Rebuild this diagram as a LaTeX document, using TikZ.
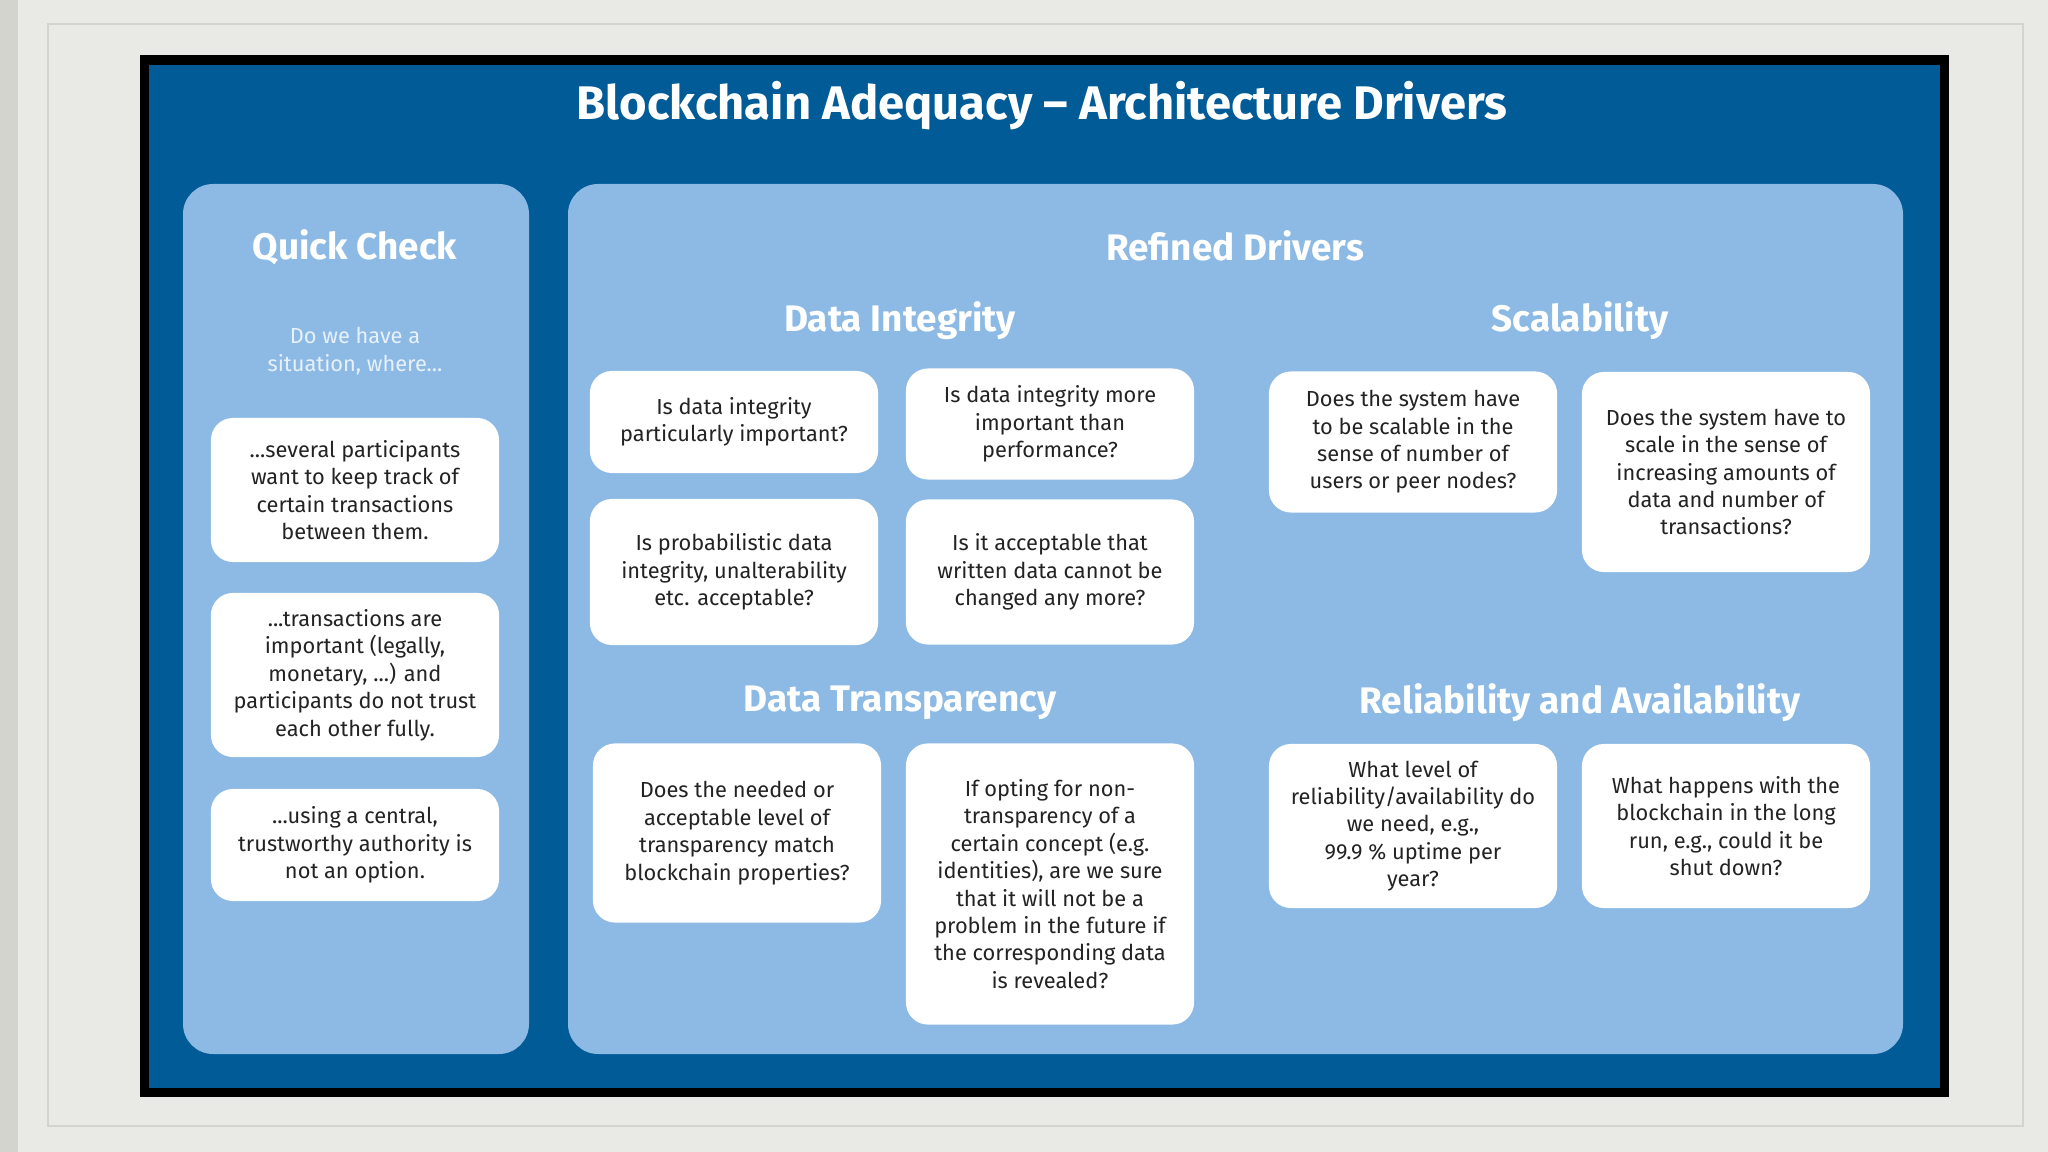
\documentclass[tikz,border=0pt]{standalone}
\usepackage{fontspec}
\setmainfont{Fira Sans}
\usetikzlibrary{positioning}
\definecolor{slideblue}{RGB}{0,91,151}
\definecolor{panelblue}{RGB}{140,186,228}
\definecolor{paper}{RGB}{233,233,229}
\definecolor{paperedge}{RGB}{212,212,207}
\definecolor{boxtext}{RGB}{35,35,35}
\definecolor{hinttext}{RGB}{232,241,250}

\tikzset{
  panel/.style={fill=panelblue, rounded corners=0.3cm},
  qbox/.style={fill=white, rounded corners=0.22cm, minimum width=2.88cm,
    align=center, text=boxtext, inner sep=0pt,
    font=\fontsize{6.2}{7.8}\selectfont},
  heading/.style={text=white, font=\bfseries\fontsize{10.5}{12}\selectfont},
  slidetitle/.style={text=white, font=\bfseries\fontsize{13.4}{16}\selectfont},
}

\begin{document}
\begin{tikzpicture}[x=0.01cm, y=-0.01cm]
  \useasboundingbox (0,0) rectangle (2048,1152);
  % Paper background
  \fill[paper] (0,0) rectangle (2048,1152);
  \fill[paperedge] (0,0) rectangle (18,1152);
  \draw[paperedge, line width=0.5pt] (48,24) rectangle (2023,1126);
  % Slide with black frame
  \fill[black] (140,55) rectangle (1949,1097);
  \fill[slideblue] (149,65) rectangle (1940,1088);
  \node[slidetitle] (title) at (1042,106)
    {Blockchain Adequacy -- Architecture Drivers};

  % Quick check panel
  \fill[panel] (183,184) rectangle (529,1054);
  \node[heading] (quick) at (355,247) {Quick Check};
  \node[text=hinttext, align=center, font=\fontsize{6.2}{7.8}\selectfont]
    (where) at (355,351) {Do we have a\\situation, where...};
  \node[qbox, minimum height=1.44cm] (qc1) at (355,490)
    {...several participants\\want to keep track of\\certain transactions\\between them.};
  \node[qbox, minimum height=1.64cm] (qc2) at (355,675)
    {...transactions are\\important (legally,\\monetary, ...) and\\participants do not trust\\each other fully.};
  \node[qbox, minimum height=1.12cm] (qc3) at (355,845)
    {...using a central,\\trustworthy authority is\\not an option.};

  % Refined drivers panel
  \fill[panel] (568,184) rectangle (1903,1054);
  \node[heading] (refined) at (1235,246) {Refined Drivers};

  % Data integrity
  \node[heading] (integrity) at (900,321) {Data Integrity};
  \node[qbox, minimum height=1.02cm] (di1) at (734,422)
    {Is data integrity\\particularly important?};
  \node[qbox, minimum height=1.11cm] (di2) at (1050,424)
    {Is data integrity more\\important than\\performance?};
  \node[qbox, minimum height=1.46cm] (di3) at (734,572)
    {Is probabilistic data\\integrity, unalterability\\etc. acceptable?};
  \node[qbox, minimum height=1.45cm] (di4) at (1050,572)
    {Is it acceptable that\\written data cannot be\\changed any more?};

  % Data transparency
  \node[heading] (transparency) at (900,703) {Data Transparency};
  \node[qbox, minimum height=1.79cm] (dt1) at (737,833)
    {Does the needed or\\acceptable level of\\transparency match\\blockchain properties?};
  \node[qbox, minimum height=2.81cm] (dt2) at (1050,884)
    {If opting for non-\\transparency of a\\certain concept (e.g.\\identities), are we sure\\that it will not be a\\problem in the future if\\the corresponding data\\is revealed?};

  % Scalability
  \node[heading] (scalability) at (1580,321) {Scalability};
  \node[qbox, minimum height=1.41cm] (sc1) at (1413,442)
    {Does the system have\\to be scalable in the\\sense of number of\\users or peer nodes?};
  \node[qbox, minimum height=2.00cm] (sc2) at (1726,472)
    {Does the system have to\\scale in the sense of\\increasing amounts of\\data and number of\\transactions?};

  % Reliability and availability
  \node[heading] (reliability) at (1580,703) {Reliability and Availability};
  \node[qbox, minimum height=1.64cm] (ra1) at (1413,826)
    {What level of\\reliability/availability do\\we need, e.g.,\\99.9 \% uptime per\\year?};
  \node[qbox, minimum height=1.64cm] (ra2) at (1726,826)
    {What happens with the\\blockchain in the long\\run, e.g., could it be\\shut down?};
\end{tikzpicture}
\end{document}
